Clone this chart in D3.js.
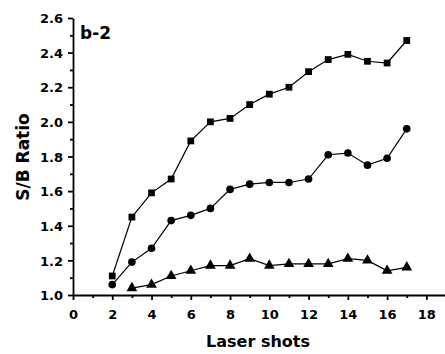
<!DOCTYPE html>
<html>
    <head>
        <style>
            body { margin: 0; background: white; }
            svg { display: block; }
            .axis path, .axis line { stroke: black; stroke-width: 1.8; }
            .axis text {
                font-family: "DejaVu Sans", sans-serif;
                font-weight: bold;
                font-size: 13px;
                fill: black;
            }
            .title {
                font-family: "DejaVu Sans", sans-serif;
                font-weight: bold;
                font-size: 16px;
                fill: black;
            }
            .series { fill: none; stroke: black; stroke-width: 1.2; }
        </style>
        <script src="https://cdn.jsdelivr.net/npm/d3@7"></script>
    </head>
    <body>
        <div id="chart"></div>
        <script>
            // data
            var shots_sq = [2, 3, 4, 5, 6, 7, 8, 9, 10, 11, 12, 13, 14, 15, 16, 17];
            var ratio_sq = [1.11, 1.45, 1.59, 1.67, 1.89, 2.00, 2.02, 2.10, 2.16, 2.20, 2.29, 2.36, 2.39, 2.35, 2.34, 2.47];

            var shots_ci = [2, 3, 4, 5, 6, 7, 8, 9, 10, 11, 12, 13, 14, 15, 16, 17];
            var ratio_ci = [1.06, 1.19, 1.27, 1.43, 1.46, 1.50, 1.61, 1.64, 1.65, 1.65, 1.67, 1.81, 1.82, 1.75, 1.79, 1.96];

            var shots_tr = [3, 4, 5, 6, 7, 8, 9, 10, 11, 12, 13, 14, 15, 16, 17];
            var ratio_tr = [1.04, 1.06, 1.11, 1.14, 1.17, 1.17, 1.21, 1.17, 1.18, 1.18, 1.18, 1.21, 1.20, 1.14, 1.16];

            var x_ticks = [0, 2, 4, 6, 8, 10, 12, 14, 16, 18];
            var y_ticks = [1.0, 1.2, 1.4, 1.6, 1.8, 2.0, 2.2, 2.4, 2.6];

            var width = 445, height = 354;

            var svg = d3.select("#chart").append("svg")
                        .attr("width", width).attr("height", height);

            var x = d3.scaleLinear().domain([0, 19]).range([73, 446]);
            var y = d3.scaleLinear().domain([1.0, 2.6]).range([295, 18]);

            // minor ticks every 1 on x, every 0.1 on y
            var x_minor = d3.range(1, 19, 2);
            var y_minor = d3.range(1.1, 2.6, 0.2);

            svg.append("g").attr("class", "axis")
                .attr("transform", "translate(0," + y(1.0) + ")")
                .call(d3.axisBottom(x).tickValues(x_ticks).tickSize(5).tickSizeOuter(0)
                        .tickPadding(10).tickFormat(d3.format("d")));

            svg.append("g").attr("class", "axis")
                .attr("transform", "translate(0," + y(1.0) + ")")
                .call(d3.axisBottom(x).tickValues(x_minor).tickSize(3).tickSizeOuter(0).tickFormat(""))
                .select("path").remove();

            var yAxis = svg.append("g").attr("class", "axis")
                .attr("transform", "translate(" + x(0) + ",0)")
                .call(d3.axisLeft(y).tickValues(y_ticks).tickSize(5).tickSizeOuter(0)
                        .tickPadding(5).tickFormat(d3.format(".1f")));

            svg.append("g").attr("class", "axis")
                .attr("transform", "translate(" + x(0) + ",0)")
                .call(d3.axisLeft(y).tickValues(y_minor).tickSize(3).tickSizeOuter(0).tickFormat(""))
                .select("path").remove();

            yAxis.selectAll("text").attr("dy", "0.36em");

            // titles
            svg.append("text").attr("class", "title")
                .attr("x", 258).attr("y", 347)
                .attr("text-anchor", "middle")
                .text("Laser shots");

            svg.append("text").attr("class", "title")
                .attr("transform", "translate(29,157) rotate(-90)")
                .attr("text-anchor", "middle")
                .style("font-size", "17px")
                .text("S/B Ratio");

            svg.append("text").attr("class", "title")
                .attr("x", 80).attr("y", 39)
                .style("font-size", "17px")
                .text("b-2");

            var line = d3.line().x(function(d) { return x(d[0]); }).y(function(d) { return y(d[1]); });

            function drawSeries(xs, ys, marker) {
                var pts = d3.zip(xs, ys);
                svg.append("path").datum(pts).attr("class", "series").attr("d", line);
                var sym = d3.symbol().type(marker.type).size(marker.size);
                svg.append("g").selectAll("path").data(pts).enter().append("path")
                    .attr("d", sym)
                    .attr("transform", function(d) { return "translate(" + x(d[0]) + "," + y(d[1]) + ")"; })
                    .attr("fill", "black");
            }

            drawSeries(shots_sq, ratio_sq, { type: d3.symbolSquare, size: 46 });
            drawSeries(shots_ci, ratio_ci, { type: d3.symbolCircle, size: 46 });
            drawSeries(shots_tr, ratio_tr, { type: d3.symbolTriangle, size: 50 });
        </script>
    </body>
</html>
